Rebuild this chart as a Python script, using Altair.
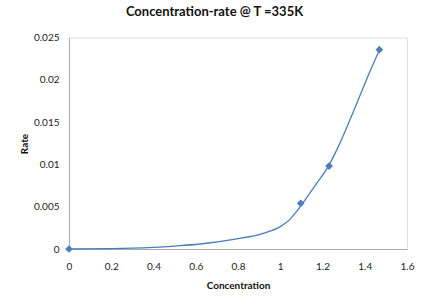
import altair as alt
import pandas as pd

# measured points
conc = [0.0, 1.097, 1.231, 1.469]
rate = [0.0, 0.0054, 0.0098, 0.02356]

# trend curve
curve_x = [0.0, 0.2, 0.3, 0.4, 0.5, 0.62, 0.78, 0.92, 1.0, 1.046, 1.07, 1.097, 1.165, 1.228, 1.275, 1.31, 1.362, 1.425, 1.469]
curve_y = [0.0, 0.00004, 0.0001, 0.0002, 0.00035, 0.00059, 0.00115, 0.00185, 0.00264, 0.0035, 0.0042, 0.0051, 0.0075, 0.0098, 0.0121, 0.0141, 0.0172, 0.0210, 0.0235]

pts = pd.DataFrame({"Concentration": conc, "Rate": rate})
crv = pd.DataFrame({"Concentration": curve_x, "Rate": curve_y})

FONT = "Lato"
BLUE = "#4A7EBB"
GRAY = "#ABABAB"

xs = alt.Scale(domain=[0, 1.6], nice=False, zero=False)
ys = alt.Scale(domain=[0, 0.025], nice=False, zero=False)

xax = alt.Axis(values=[0, 0.2, 0.4, 0.6, 0.8, 1, 1.2, 1.4, 1.6], grid=False, ticks=False,
               domainColor=GRAY, domainWidth=1, labelPadding=12, labelFontSize=10,
               labelColor="#222222", labelFont=FONT, title="Concentration",
               titleFont=FONT, titleFontSize=10, titleFontWeight="bold", titleColor="#111111",
               titleY=36, titleBaseline="middle", format="~g", labelFlush=False)
yax = alt.Axis(values=[0, 0.005, 0.01, 0.015, 0.02, 0.025], grid=False, ticks=False,
               domainColor=GRAY, domainWidth=1, labelPadding=10, labelFontSize=10,
               labelColor="#222222", labelFont=FONT, title="Rate",
               titleFont=FONT, titleFontSize=10, titleFontWeight="bold", titleColor="#111111",
               titleX=-45, titleY=106, titleAngle=-90, titleBaseline="middle", titleAlign="center",
               format="~g", labelFlush=False)

line = alt.Chart(crv).mark_line(color=BLUE, strokeWidth=1.3, interpolate="monotone").encode(
    x=alt.X("Concentration:Q", scale=xs, axis=xax),
    y=alt.Y("Rate:Q", scale=ys, axis=yax),
)
dots = alt.Chart(pts).mark_point(shape="diamond", filled=True, size=60, color=BLUE, opacity=1).encode(
    x=alt.X("Concentration:Q", scale=xs),
    y=alt.Y("Rate:Q", scale=ys),
)

chart = (line + dots).properties(
    width=338, height=211.5,
    title=alt.TitleParams("Concentration-rate @ T =335K", font=FONT, fontSize=13,
                          fontWeight="bold", color="#111111", anchor="middle", dx=-23.5, offset=14),
    autosize=alt.AutoSizeParams(type="none"),
    padding={"left": 69, "top": 37.5, "right": 22, "bottom": 58},
).configure_view(stroke=None).configure(background="white")

chart.save("out.html", embed_options={"renderer": "svg", "actions": False})
